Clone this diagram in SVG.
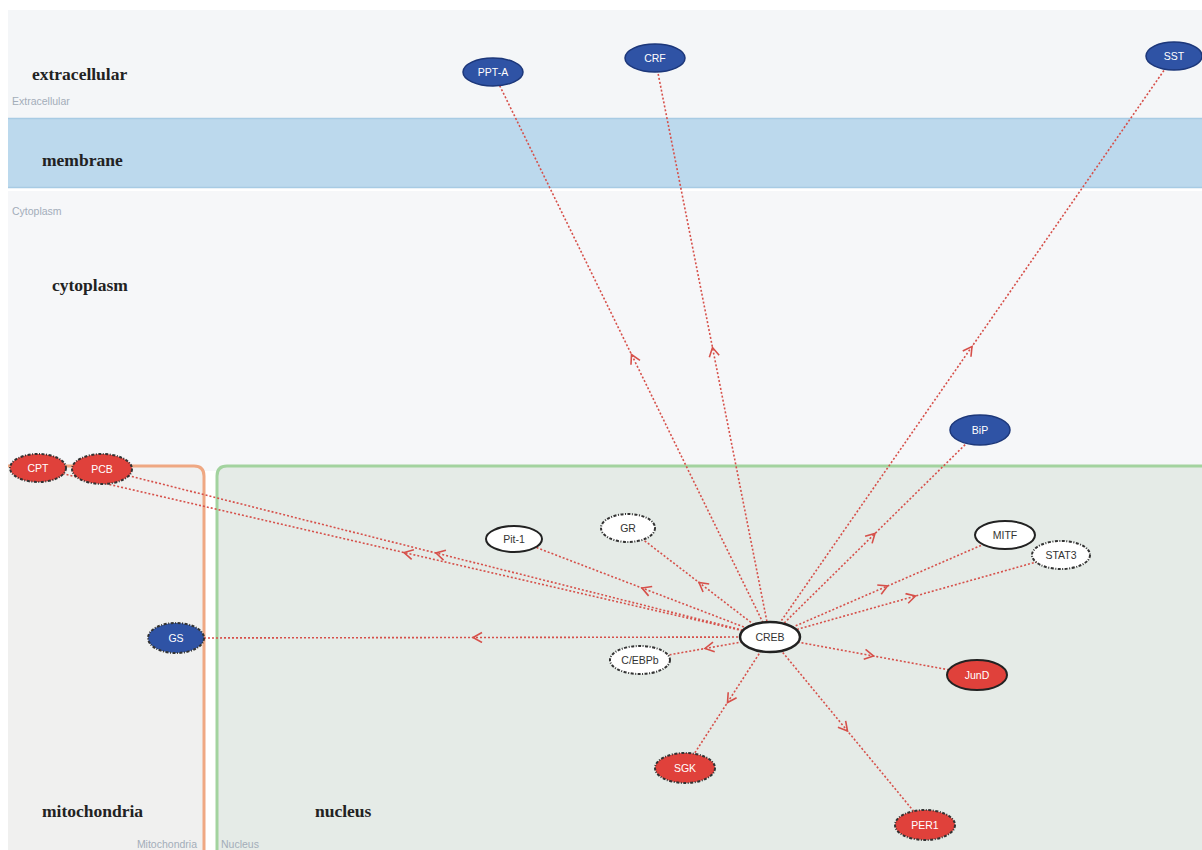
<svg xmlns="http://www.w3.org/2000/svg" width="1202" height="850" viewBox="0 0 1202 850">
<style>
.region{font-family:"Liberation Serif",serif;font-weight:bold;font-size:17.5px;fill:#222}
.small{font-family:"Liberation Sans",sans-serif;font-size:10.5px;fill:#a3adb9}
.edge{fill:none;stroke:#d6504a;stroke-width:1.6;stroke-dasharray:2 2;marker-mid:url(#arr)}
.nt{font-family:"Liberation Sans",sans-serif;font-size:10.5px;text-anchor:middle;dominant-baseline:central}
.red ellipse{fill:#e0413b}
.blue ellipse{fill:#2f53a5}
.white ellipse{fill:#ffffff}
.red text,.blue text{fill:#ffffff}
.white text{fill:#333}
.solid ellipse{stroke:#222;stroke-width:2}
.dash ellipse{stroke:#333;stroke-width:2;stroke-dasharray:3 1.5 1 1.5}
.bsolid ellipse{stroke:#1c377a;stroke-width:1.5}
</style>
<defs>
<marker id="arr" viewBox="0 0 12 12" refX="10" refY="6" markerWidth="12" markerHeight="12" markerUnits="userSpaceOnUse" orient="auto">
<path d="M1,1 L10,6 L1,11" fill="none" stroke="#d6504a" stroke-width="1.6"/>
</marker>
</defs>
<rect x="0" y="0" width="1202" height="850" fill="#ffffff"/>
<g id="compartments">
<rect x="8" y="10" width="1194" height="108" fill="#f4f6f8"/>
<rect x="8" y="118" width="1194" height="70" fill="#bcd9ed"/>
<line x1="8" y1="118.5" x2="1202" y2="118.5" stroke="#a7cbe4" stroke-width="1.5"/>
<line x1="8" y1="187.5" x2="1202" y2="187.5" stroke="#a7cbe4" stroke-width="1.5"/>
<rect x="8" y="191" width="1194" height="280" fill="#f6f7f9"/>
<path d="M8,466 L194,466 Q204,466 204,476 L204,850 L8,850 Z" fill="#f0f0ef"/>
<path d="M8,466 L194,466 Q204,466 204,476 L204,850" fill="none" stroke="#efa883" stroke-width="3"/>
<path d="M217,850 L217,476 Q217,466 227,466 L1202,466 L1202,850 Z" fill="#e5ebe7"/>
<path d="M217,850 L217,476 Q217,466 227,466 L1202,466" fill="none" stroke="#a3d39f" stroke-width="3"/>
<text class="region" x="32" y="80">extracellular</text>
<text class="small" x="12" y="105">Extracellular</text>
<text class="region" x="42" y="166">membrane</text>
<text class="small" x="12" y="215">Cytoplasm</text>
<text class="region" x="52" y="291">cytoplasm</text>
<text class="region" x="42" y="817">mitochondria</text>
<text class="region" x="315" y="817">nucleus</text>
<text class="small" x="197" y="848" text-anchor="end">Mitochondria</text>
<text class="small" x="221" y="848">Nucleus</text>
</g>
<g id="connectors">
<polyline class="edge" points="770,637 631.5,354.5 493,72"/>
<polyline class="edge" points="770,637 712.5,347.5 655,58"/>
<polyline class="edge" points="770,637 972,346.5 1174,56"/>
<polyline class="edge" points="770,637 875,533.5 980,430"/>
<polyline class="edge" points="770,637 404,552.5 38,468"/>
<polyline class="edge" points="770,637 436,553 102,469"/>
<polyline class="edge" points="770,637 473,637.5 176,638"/>
<polyline class="edge" points="770,637 642,588 514,539"/>
<polyline class="edge" points="770,637 699,582.5 628,528"/>
<polyline class="edge" points="770,637 887.5,586 1005,535"/>
<polyline class="edge" points="770,637 915.5,596 1061,555"/>
<polyline class="edge" points="770,637 705,648.5 640,660"/>
<polyline class="edge" points="770,637 873.5,656 977,675"/>
<polyline class="edge" points="770,637 727.5,702.5 685,768"/>
<polyline class="edge" points="770,637 847.5,731 925,825"/>
</g>
<g id="PPT-A" class="blue bsolid"><ellipse cx="493" cy="72" rx="30" ry="14"/><text class="nt" x="493" y="72">PPT-A</text></g>
<g id="CRF" class="blue bsolid"><ellipse cx="655" cy="58" rx="30" ry="14"/><text class="nt" x="655" y="58">CRF</text></g>
<g id="SST" class="blue bsolid"><ellipse cx="1174" cy="56" rx="28" ry="14"/><text class="nt" x="1174" y="56">SST</text></g>
<g id="BiP" class="blue bsolid"><ellipse cx="980" cy="430" rx="30" ry="15"/><text class="nt" x="980" y="430">BiP</text></g>
<g id="CPT" class="red dash"><ellipse cx="38" cy="468" rx="28" ry="14"/><text class="nt" x="38" y="468">CPT</text></g>
<g id="PCB" class="red dash"><ellipse cx="102" cy="469" rx="30" ry="15"/><text class="nt" x="102" y="469">PCB</text></g>
<g id="GS" class="blue dash"><ellipse cx="176" cy="638" rx="28" ry="15"/><text class="nt" x="176" y="638">GS</text></g>
<g id="Pit-1" class="white solid"><ellipse cx="514" cy="539" rx="28" ry="13"/><text class="nt" x="514" y="539">Pit-1</text></g>
<g id="GR" class="white dash"><ellipse cx="628" cy="528" rx="27" ry="14"/><text class="nt" x="628" y="528">GR</text></g>
<g id="MITF" class="white solid"><ellipse cx="1005" cy="535" rx="30" ry="14"/><text class="nt" x="1005" y="535">MITF</text></g>
<g id="STAT3" class="white dash"><ellipse cx="1061" cy="555" rx="29" ry="14"/><text class="nt" x="1061" y="555">STAT3</text></g>
<g id="CREB" class="white solid"><ellipse cx="770" cy="637" rx="30" ry="15" style="stroke-width:2.5"/><text class="nt" x="770" y="637">CREB</text></g>
<g id="C-EBPb" class="white dash"><ellipse cx="640" cy="660" rx="30" ry="14"/><text class="nt" x="640" y="660">C/EBPb</text></g>
<g id="JunD" class="red solid"><ellipse cx="977" cy="675" rx="30" ry="15"/><text class="nt" x="977" y="675">JunD</text></g>
<g id="SGK" class="red dash"><ellipse cx="685" cy="768" rx="30" ry="15"/><text class="nt" x="685" y="768">SGK</text></g>
<g id="PER1" class="red dash"><ellipse cx="925" cy="825" rx="30" ry="15"/><text class="nt" x="925" y="825">PER1</text></g>
</svg>
